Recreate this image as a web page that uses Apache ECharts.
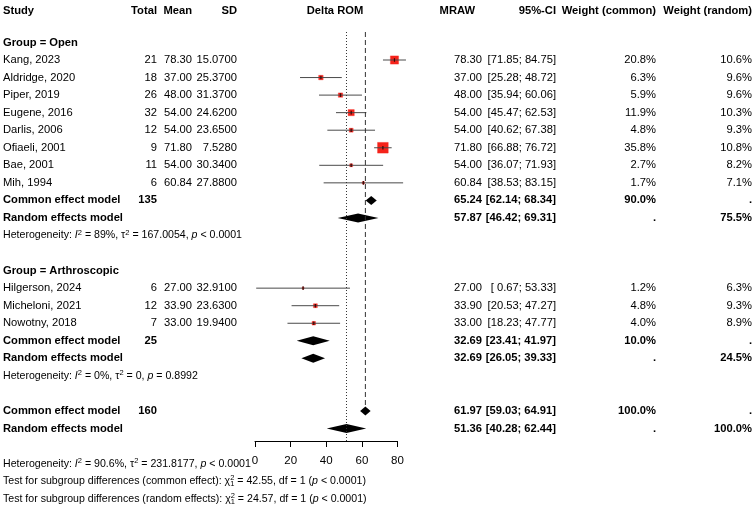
<!DOCTYPE html>
<html>
<head>
<meta charset="utf-8">
<script src="https://cdn.jsdelivr.net/npm/echarts@6/dist/echarts.min.js"></script>
<style>
  html, body { margin: 0; padding: 0; background: #fff; }
  #chart { width: 756px; height: 510px; }
</style>
</head>
<body>
<div id="chart"></div>
<script>
// study level data
const studyNames = ['Kang, 2023', 'Aldridge, 2020', 'Piper, 2019', 'Eugene, 2016', 'Darlis, 2006', 'Ofiaeli, 2001',
  'Bae, 2001', 'Mih, 1994', 'Hilgerson, 2024', 'Micheloni, 2021', 'Nowotny, 2018']
const studyGroup = ['Open', 'Open', 'Open', 'Open', 'Open', 'Open', 'Open', 'Open', 'Arthroscopic', 'Arthroscopic', 'Arthroscopic']
const totals = [21, 18, 26, 32, 12, 9, 11, 6, 6, 12, 7]
const means = [78.30, 37.00, 48.00, 54.00, 54.00, 71.80, 54.00, 60.84, 27.00, 33.90, 33.00]
const sds = [15.07, 25.37, 31.37, 24.62, 23.65, 7.528, 30.34, 27.88, 32.91, 23.63, 19.94]
const mraw = [78.30, 37.00, 48.00, 54.00, 54.00, 71.80, 54.00, 60.84, 27.00, 33.90, 33.00]
const ciLow = [71.85, 25.28, 35.94, 45.47, 40.62, 66.88, 36.07, 38.53, 0.67, 20.53, 18.23]
const ciHigh = [84.75, 48.72, 60.06, 62.53, 67.38, 76.72, 71.93, 83.15, 53.33, 47.27, 47.77]
const wCommon = [20.8, 6.3, 5.9, 11.9, 4.8, 35.8, 2.7, 1.7, 1.2, 4.8, 4.0]
const wRandom = [10.6, 9.6, 9.6, 10.3, 9.3, 10.8, 8.2, 7.1, 6.3, 9.3, 8.9]

// subgroup summaries
const groups = ['Open', 'Arthroscopic']
const groupN = [135, 25]
const groupCommon = [[65.24, 62.14, 68.34], [32.69, 23.41, 41.97]]
const groupCommonW = ['90.0%', '10.0%']
const groupRandom = [[57.87, 46.42, 69.31], [32.69, 26.05, 39.33]]
const groupRandomW = ['75.5%', '24.5%']
const groupHet = [['89%', '167.0054', '<', '0.0001'], ['0%', '0', '=', '0.8992']]

// overall
const overallN = 160
const overallCommon = [61.97, 59.03, 64.91]
const overallRandom = [51.36, 40.28, 62.44]
const overallHet = ['90.6%', '231.8177', '<', '0.0001']
const subgroupTests = [['common effect', '42.55', '1', '< 0.0001'], ['random effects', '24.57', '1', '< 0.0001']]

const axisMin = 0, axisMax = 80, axisStep = 20

// layout
const ROW0 = 60, STEP = 17.55, GRID_TOP = 5, AXIS_Y = 441
const yMin = (GRID_TOP - ROW0) / STEP
const yMax = (AXIS_Y - ROW0) / STEP
const FONT = "'Liberation Sans', Arial, Helvetica, sans-serif"
const FS = 11.2, FS_HET = 10.6
const COL = { study: 3, total: 157, mean: 192, sd: 237, mraw: 482, ci: 556, wc: 656, wr: 752 }

const f2 = v => v.toFixed(2)
const pad = s => (s.length < 5 ? ' '.repeat(5 - s.length) : '') + s
const fmtCI = (lo, hi) => '[' + pad(f2(lo)) + '; ' + pad(f2(hi)) + ']'

// build rows
const rows = []
let k = -1
const studyRows = []
const diamonds = []
groups.forEach((g, gi) => {
  rows.push({ kind: 'group', k: k++, label: 'Group = ' + g })
  studyNames.forEach((name, i) => {
    if (studyGroup[i] !== g) return
    rows.push({ kind: 'study', k, i })
    studyRows.push([mraw[i], ciLow[i], ciHigh[i], k, wCommon[i]])
    k++
  })
  rows.push({ kind: 'common', k, n: groupN[gi], est: groupCommon[gi], wc: groupCommonW[gi], wr: '.' })
  diamonds.push([...groupCommon[gi], k++])
  rows.push({ kind: 'random', k, est: groupRandom[gi], wc: '.', wr: groupRandomW[gi] })
  diamonds.push([...groupRandom[gi], k++])
  rows.push({ kind: 'het', k: k++, het: groupHet[gi] })
  k++
})
rows.push({ kind: 'common', k, n: overallN, est: overallCommon, wc: '100.0%', wr: '.' })
diamonds.push([...overallCommon, k])
const kOverallCommon = k++
rows.push({ kind: 'random', k, est: overallRandom, wc: '.', wr: '100.0%' })
diamonds.push([...overallRandom, k++])
k++
rows.push({ kind: 'het', k: k++, het: overallHet })
subgroupTests.forEach(t => rows.push({ kind: 'test', k: k++, test: t }))
rows.push({ kind: 'header', k: (11 - ROW0) / STEP })

const rich = {
  it: { fontStyle: 'italic', fontSize: FS_HET, fontFamily: FONT },
  sup: { fontSize: 7.5, fontFamily: FONT, verticalAlign: 'top', lineHeight: 8 },
  sup0: { fontSize: 7.5, fontFamily: FONT, verticalAlign: 'top', lineHeight: 8, width: 0 },
  sub: { fontSize: 7.5, fontFamily: FONT, verticalAlign: 'bottom', lineHeight: 8 }
}

function txt(x, y, text, align, bold, extra) {
  return {
    type: 'text', x, y,
    style: Object.assign({
      text, fill: '#000', fontFamily: FONT, fontSize: FS,
      fontWeight: bold ? 'bold' : 'normal', align: align || 'left', verticalAlign: 'middle'
    }, extra || {})
  }
}

function renderRow(params, api) {
  const r = rows[api.value(2)]
  const y = api.coord([0, api.value(1)])[1]
  const c = []
  if (r.kind === 'header') {
    c.push(txt(COL.study, y, 'Study', 'left', true))
    c.push(txt(COL.total, y, 'Total', 'right', true))
    c.push(txt(COL.mean, y, 'Mean', 'right', true))
    c.push(txt(COL.sd, y, 'SD', 'right', true))
    c.push(txt(335, y, 'Delta ROM', 'center', true))
    c.push(txt(475, y, 'MRAW', 'right', true))
    c.push(txt(COL.ci, y, '95%-CI', 'right', true))
    c.push(txt(COL.wc, y, 'Weight (common)', 'right', true))
    c.push(txt(COL.wr, y, 'Weight (random)', 'right', true))
  } else if (r.kind === 'group') {
    c.push(txt(COL.study, y, r.label, 'left', true))
  } else if (r.kind === 'study') {
    const i = r.i
    c.push(txt(COL.study, y, studyNames[i]))
    c.push(txt(COL.total, y, String(totals[i]), 'right'))
    c.push(txt(COL.mean, y, f2(means[i]), 'right'))
    c.push(txt(COL.sd, y, sds[i].toFixed(4), 'right'))
    c.push(txt(COL.mraw, y, f2(mraw[i]), 'right'))
    c.push(txt(COL.ci, y, fmtCI(ciLow[i], ciHigh[i]), 'right'))
    c.push(txt(COL.wc, y, wCommon[i].toFixed(1) + '%', 'right'))
    c.push(txt(COL.wr, y, wRandom[i].toFixed(1) + '%', 'right'))
  } else if (r.kind === 'common' || r.kind === 'random') {
    c.push(txt(COL.study, y, r.kind === 'common' ? 'Common effect model' : 'Random effects model', 'left', true))
    if (r.n) c.push(txt(COL.total, y, String(r.n), 'right', true))
    c.push(txt(COL.mraw, y, f2(r.est[0]), 'right', true))
    c.push(txt(COL.ci, y, fmtCI(r.est[1], r.est[2]), 'right', true))
    c.push(txt(COL.wc, y, r.wc, 'right', true))
    c.push(txt(COL.wr, y, r.wr, 'right', true))
  } else if (r.kind === 'het') {
    const h = r.het
    c.push(txt(COL.study, y, 'Heterogeneity: {it|I}{sup|2} = ' + h[0] + ', τ{sup|2} = ' + h[1] +
      ', {it|p} ' + h[2] + ' ' + h[3], 'left', false, { fontSize: FS_HET, lineHeight: 14, rich }))
  } else if (r.kind === 'test') {
    const t = r.test
    c.push(txt(COL.study, y, 'Test for subgroup differences (' + t[0] + '): χ{sup0|2}{sub|1} = ' + t[1] +
      ', df = ' + t[2] + ' ({it|p} ' + t[3] + ')', 'left', false, { fontSize: FS_HET, lineHeight: 14, rich }))
  }
  return { type: 'group', children: c }
}

function renderStudy(params, api) {
  const p = api.coord([api.value(0), api.value(3)])
  const lo = api.coord([api.value(1), api.value(3)])
  const hi = api.coord([api.value(2), api.value(3)])
  const s = 1.79 * Math.sqrt(api.value(4))
  return {
    type: 'group',
    children: [
      { type: 'rect', shape: { x: p[0] - s / 2, y: p[1] - s / 2, width: s, height: s },
        style: { fill: '#f5231b', stroke: 'rgba(245,35,27,0.35)', lineWidth: 1 } },
      { type: 'line', shape: { x1: lo[0], y1: p[1], x2: hi[0], y2: p[1] },
        style: { stroke: '#4a4a4a', lineWidth: 1 } },
      { type: 'line', shape: { x1: p[0], y1: p[1] - 1.8, x2: p[0], y2: p[1] + 1.8 },
        style: { stroke: '#3a0a08', lineWidth: 1.2 } }
    ]
  }
}

function renderDiamond(params, api) {
  const k = api.value(3)
  const e = api.coord([api.value(0), k])
  const lo = api.coord([api.value(1), k])
  const hi = api.coord([api.value(2), k])
  const h = 4.5
  return {
    type: 'polygon',
    shape: { points: [[lo[0], e[1]], [e[0], e[1] - h], [hi[0], e[1]], [e[0], e[1] + h]] },
    style: { fill: '#000' }
  }
}

const chart = echarts.init(document.getElementById('chart'), null, { renderer: 'canvas' })
const kTop = (32 - ROW0) / STEP

chart.setOption({
  animation: false,
  grid: { left: 255, width: 142.5, top: GRID_TOP, bottom: 510 - AXIS_Y },
  xAxis: {
    type: 'value', min: axisMin, max: axisMax, interval: axisStep,
    splitLine: { show: false },
    axisLine: { show: true, onZero: false, lineStyle: { color: '#000', width: 1 } },
    axisTick: { show: true, length: 6, lineStyle: { color: '#000' } },
    axisLabel: { color: '#000', fontSize: 11.5, fontFamily: FONT, margin: 14 }
  },
  yAxis: { type: 'value', inverse: true, min: yMin, max: yMax, show: false },
  series: [
    {
      type: 'line', silent: true, symbol: 'none',
      data: [[overallRandom[0], kTop], [overallRandom[0], yMax]],
      lineStyle: { color: '#333', width: 1, type: [1, 2] }
    },
    {
      type: 'line', silent: true, symbol: 'none',
      data: [[overallCommon[0], kTop], [overallCommon[0], kOverallCommon - 0.25]],
      lineStyle: { color: '#333', width: 1, type: [5, 3] }
    },
    { type: 'custom', silent: true, renderItem: renderStudy, data: studyRows },
    { type: 'custom', silent: true, renderItem: renderDiamond, data: diamonds },
    { type: 'custom', silent: true, renderItem: renderRow, data: rows.map((r, i) => [0, r.k, i]) }
  ]
})
</script>
</body>
</html>
